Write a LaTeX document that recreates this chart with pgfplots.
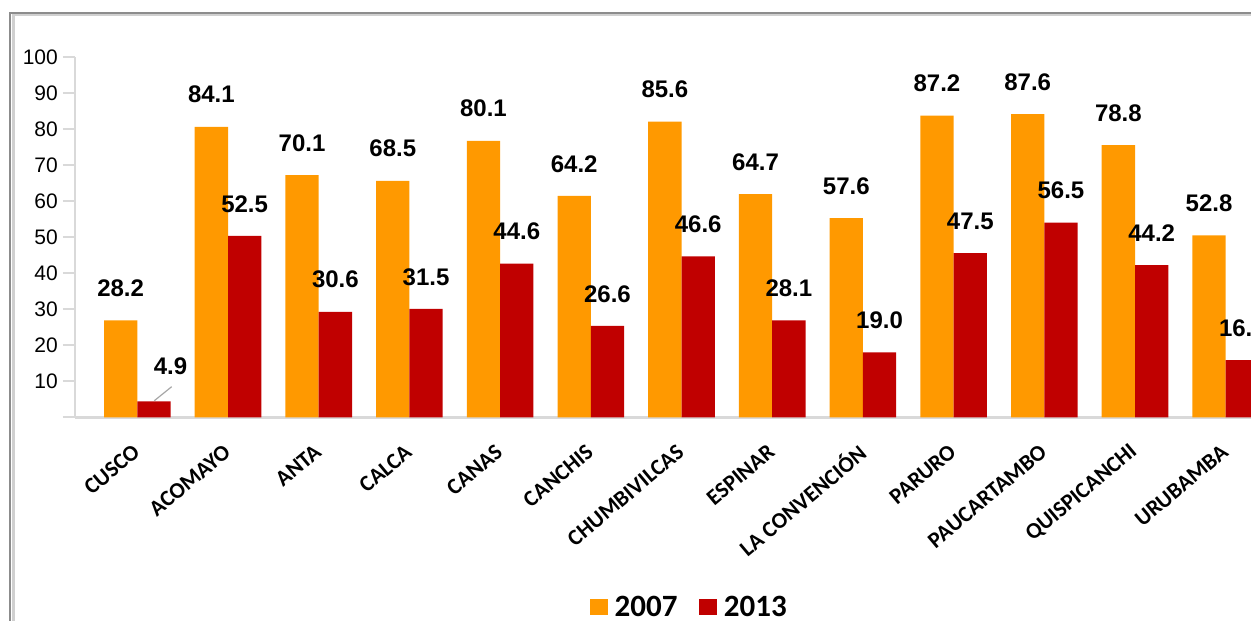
\documentclass[border=0pt]{standalone}
\usepackage{pgfplots}
\pgfplotsset{compat=1.18}
\usepackage{pgfplotstable}
\usepackage{fontspec}
\setmainfont{Liberation Sans}
\newfontfamily\carlito{Carlito}
\definecolor{c2007}{RGB}{255,153,0}
\definecolor{c2013}{RGB}{192,0,0}
\definecolor{axisgray}{RGB}{217,217,217}
\definecolor{framedark}{RGB}{140,140,140}
\definecolor{framelight}{RGB}{208,208,208}

% bar heights as drawn, labels as printed
\pgfplotstableread{
x y lab
0 26.9 28.2
1 80.7 84.1
2 67.3 70.1
3 65.7 68.5
4 76.8 80.1
5 61.5 64.2
6 82.1 85.6
7 62.0 64.7
8 55.3 57.6
9 83.8 87.2
10 84.2 87.6
11 75.6 78.8
12 50.5 52.8
}\dataA
\pgfplotstableread{
x y lab dx dy
0 4.4 4.9 16.5 3.1
1 50.4 52.5 0 0
2 29.3 30.6 0 0
3 30.1 31.5 0 0
4 42.7 44.6 0 0
5 25.4 26.6 0 0
6 44.7 46.6 0 0
7 26.9 28.1 0 0
8 18.0 19.0 0 0
9 45.6 47.5 0 0
10 54.1 56.5 0 0
11 42.3 44.2 0 0
12 15.9 16.6 0 0
}\dataB

\pgfplotsset{sqlegend/.style={legend image code/.code={\fill[##1] (0pt,-8pt) rectangle (17.5pt,8pt);}}}

\begin{document}
\begin{tikzpicture}
\path[use as bounding box] (0,0) rectangle (1251pt,621pt);
\begin{scope}
\clip (0,0) rectangle (1251pt,621pt);
\draw[framelight, line width=3pt] (13pt,-10pt) |- (1300pt,606.5pt);
\draw[framedark, line width=2pt] (10pt,-10pt) |- (1300pt,608.3pt);
\begin{axis}[
  at={(75pt,203.7pt)}, anchor=south west,
  scale only axis, width=1223.3pt, height=360pt,
  xmin=-0.687, xmax=12.8, ymin=0, ymax=100,
  ybar=0pt, bar width=33.3pt,
  axis lines*=left,
  axis line style={axisgray, line width=2.5pt},
  xtick={0,...,12},
  xticklabels={CUSCO,ACOMAYO,ANTA,CALCA,CANAS,CANCHIS,CHUMBIVILCAS,ESPINAR,LA CONVENCIÓN,PARURO,PAUCARTAMBO,QUISPICANCHI,URUBAMBA},
  ytick={0,10,...,100},
  yticklabels={,10,20,30,40,50,60,70,80,90,100},
  /pgf/number format/assume math mode=true,
  tick align=outside, major tick length=12pt,
  ytick style={axisgray, line width=2pt},
  xtick style={draw=none},
  yticklabel style={font=\fontsize{21}{21}\selectfont, inner sep=0pt},
  xticklabel style={font=\carlito\bfseries\fontsize{22.5}{22.5}\selectfont, rotate=40, anchor=east, inner sep=0pt, xshift=-1pt},
  xticklabel shift=19pt, yticklabel shift=5pt,
  clip=false,
  nodes near coords, point meta=explicit symbolic,
  every node near coord/.append style={font=\bfseries\fontsize{24}{24}\selectfont, text=black, inner sep=0pt, anchor=south, yshift=23.4pt},
  legend columns=2,
  legend style={draw=none, fill=none, at={(0.5015,-0.527)}, anchor=center,
    font=\carlito\bfseries\fontsize{31}{31}\selectfont, nodes={inner sep=0pt},
    /tikz/every odd column/.append style={column sep=7pt},
    /tikz/every even column/.append style={column sep=22pt}},
]
\addplot[fill=c2007, draw=none, sqlegend] table[x=x, y=y, meta=lab]{\dataA};
\addplot[fill=c2013, draw=none, sqlegend,
  visualization depends on={\thisrow{dx}\as\dx},
  visualization depends on={\thisrow{dy}\as\dy},
  every node near coord/.append style={xshift=\dx pt, yshift=\dy pt}] table[x=x, y=y, meta=lab]{\dataB};
\legend{2007,2013}
\draw[gray!70, line width=1.2pt] (axis cs:0.187,4.6) -- (axis cs:0.379,8.5);
\end{axis}
\end{scope}
\end{tikzpicture}
\end{document}
